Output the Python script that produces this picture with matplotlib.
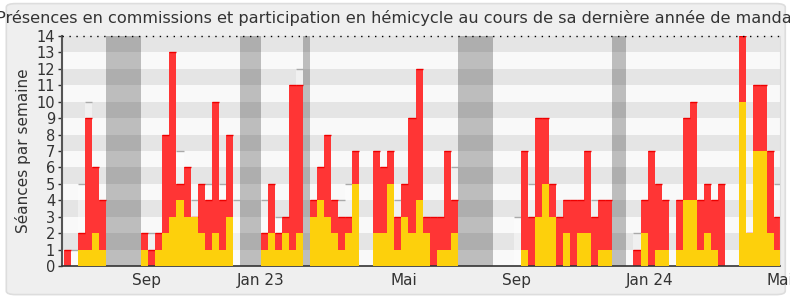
import matplotlib
matplotlib.use("Agg")
import matplotlib.pyplot as plt
from matplotlib.patches import FancyBboxPatch, Rectangle
import numpy as np

# weekly totals (hemicycle + commissions) and commission-only counts
total = [1, 0, 2, 9, 6, 4, 0, 0, 0, 0,
         0, 2, 1, 2, 8, 13, 5, 6, 3, 5,
         4, 10, 4, 8, 0, 0, 0, 0, 2, 5,
         2, 3, 11, 11, 0, 4, 6, 8, 4, 3,
         3, 7, 0, 0, 7, 6, 7, 3, 5, 9,
         12, 3, 3, 3, 7, 4, 0, 0, 0, 0,
         0, 0, 0, 0, 0, 7, 3, 9, 9, 5,
         3, 4, 4, 4, 7, 3, 4, 4, 0, 0,
         0, 1, 4, 7, 5, 4, 0, 4, 9, 10,
         4, 5, 4, 5, 0, 0, 14, 2, 11, 11,
         7, 3]
commission = [0, 0, 1, 1, 2, 1, 0, 0, 0, 0,
              0, 1, 0, 1, 2, 3, 4, 3, 3, 2,
              1, 2, 1, 3, 0, 0, 0, 0, 1, 2,
              1, 2, 1, 2, 0, 3, 4, 3, 2, 1,
              2, 5, 0, 0, 2, 2, 5, 1, 3, 2,
              4, 2, 0, 1, 1, 2, 0, 0, 0, 0,
              0, 0, 0, 0, 0, 1, 0, 3, 5, 3,
              0, 2, 0, 2, 2, 0, 1, 1, 0, 0,
              0, 0, 2, 0, 1, 1, 0, 1, 4, 4,
              1, 2, 1, 0, 0, 0, 10, 2, 7, 7,
              2, 1]
# parliamentary breaks: (first week, number of weeks)
vacances = [(6, 5), (25, 3), (34, 1), (56, 5), (78, 2)]
# median of all deputies, where visible
median_weeks = [1, 2, 3, 12, 16, 18, 20, 22, 24, 28, 30, 33, 39, 40, 47, 55, 64, 66, 75, 81, 101]
median_vals = [1, 5, 10, 2, 7, 4, 5, 5, 4, 4, 3, 12, 4, 5, 4, 6, 3, 5, 4, 2, 5]
month_labels = ["Sep", "Jan 23", "Mai", "Sep", "Jan 24", "Mai"]
month_pos = [11.8, 28.0, 48.4, 64.3, 83.3, 101.8]

weeks = np.arange(len(total))
total = np.array(total)
commission = np.array(commission)

fig = plt.figure(figsize=(7.9, 3.0), dpi=100, facecolor="white")
fig.patches.append(FancyBboxPatch((0.008, 0.018), 0.986, 0.97, transform=fig.transFigure,
                                  boxstyle="round,pad=0,rounding_size=0.012",
                                  facecolor="#efefef", edgecolor="#dddddd", lw=1.2, zorder=-10))

ax = fig.add_axes([0.0785, 0.1133, 0.9085, 0.7667])
ax.set_facecolor("#f9f9f9")
xmin, xmax = -0.28, 101.42
ax.set_xlim(xmin, xmax)
ax.set_ylim(0, 14)

# alternating bands
for k in range(1, 14, 2):
    ax.axhspan(k, k + 1, color="#e5e5e5", lw=0, zorder=0)

for start, n in vacances:
    ax.axvspan(start, start + n, color="black", alpha=0.24, lw=0, zorder=1)

# median reference columns
for w, v in zip(median_weeks, median_vals):
    ax.add_patch(Rectangle((w, 0), 1, v, facecolor="white", alpha=0.45, lw=0, zorder=1.5))
    ax.hlines(v, w, w + 1, color="#aaaaaa", lw=1, zorder=1.6)

ax.bar(weeks, total, width=1, align="edge", color="#ff3535", lw=0, zorder=2)
ax.hlines(total[total > 0], weeks[total > 0], weeks[total > 0] + 1, color="#ee0000", lw=1, zorder=2.5)
ax.bar(weeks, commission, width=1, align="edge", color="#fdd00c", lw=0, zorder=3)

ax.axhline(14, color="black", lw=1, ls=(0, (1, 4)), zorder=4, clip_on=False)

ax.set_yticks(range(0, 15))
ax.set_xticks(month_pos)
ax.set_xticklabels(month_labels)
ax.tick_params(axis="y", labelsize=10.5, colors="#333333", length=3, width=1, pad=2)
ax.tick_params(axis="x", labelsize=11, colors="#333333", length=0, pad=5)

ax.spines["top"].set_visible(False)
ax.spines["right"].set_color("#dddddd")
ax.spines["left"].set_color("#555555")
ax.spines["left"].set_linewidth(1.5)
ax.spines["bottom"].set_color("#333333")
ax.spines["bottom"].set_linewidth(1.2)

ax.set_ylabel("Séances par semaine", fontsize=11, color="#333333", labelpad=4)
fig.text(0.503, 0.94, "Présences en commissions et participation en hémicycle au cours de sa dernière année de mandat",
         ha="center", va="center", fontsize=11.6, color="#333333")

fig.savefig("out.png", dpi=100, facecolor="white")
